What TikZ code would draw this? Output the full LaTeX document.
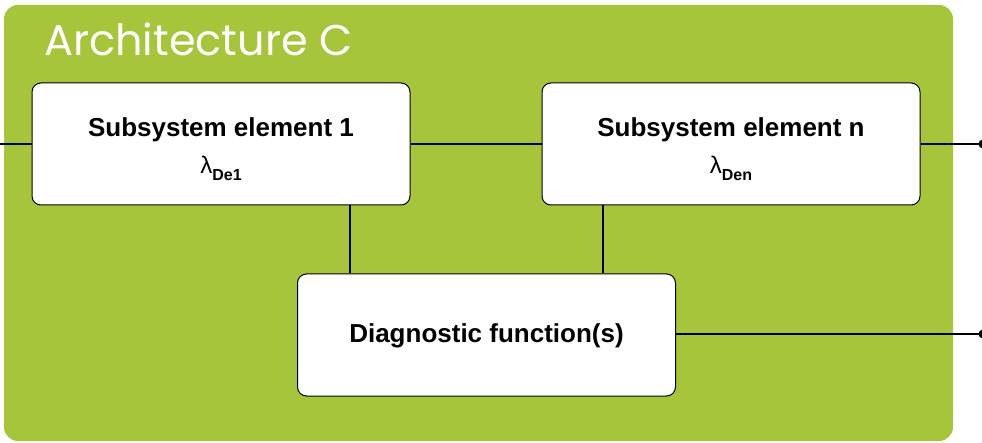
\documentclass[tikz,border=0pt]{standalone}
\usepackage{fontspec}
\setmainfont{Liberation Sans}
\newfontfamily\titlefont{Poppins}
\definecolor{archgreen}{RGB}{167,197,58}
\newcommand{\lamsub}[1]{{\fontsize{24}{24}\selectfont\mdseries λ\raisebox{-7pt}{\fontsize{16}{16}\selectfont\bfseries #1}}}

\begin{document}
\begin{tikzpicture}[x=1pt,y=-1pt,
  elem/.style={draw=black,line width=1pt,fill=white,rounded corners=9pt,
    minimum width=378pt,minimum height=122pt,inner sep=0pt,align=center,
    font=\fontsize{26}{37}\selectfont\bfseries},
  wire/.style={line width=2pt},
  tip/.style={circle,fill=black,inner sep=0pt,minimum size=9pt}]
\useasboundingbox (0,0) rectangle (982,443);
% panel
\fill[archgreen,rounded corners=14pt] (4,5) rectangle (953,441);
\node[anchor=base west,inner sep=0pt,text=white,font=\titlefont\fontsize{43}{43}\selectfont] (title) at (44,56) {Architecture C};
% elements
\node[elem] (sub1) at (221,144) {\rule{0pt}{29pt}Subsystem element 1\\\lamsub{De1}};
\node[elem] (subn) at (731,144) {\rule{0pt}{29pt}Subsystem element n\\\lamsub{Den}};
\node[elem] (diag) at (486.5,335) {\rule{0pt}{21pt}Diagnostic function(s)};
% ends and junctions
\coordinate (in) at (0,144);
\node[tip] (out1) at (983,144) {};
\node[tip] (out2) at (983,334) {};
\coordinate (j1) at (350,0);
\coordinate (jn) at (603,0);
% wires
\draw[wire] (in) -- (sub1.west);
\draw[wire] (sub1.east) -- (subn.west);
\draw[wire] (subn.east) -- (out1.center);
\draw[wire] (diag.east |- out2) -- (out2.center);
\draw[wire] (sub1.south -| j1) -- (diag.north -| j1);
\draw[wire] (subn.south -| jn) -- (diag.north -| jn);
\end{tikzpicture}
\end{document}
